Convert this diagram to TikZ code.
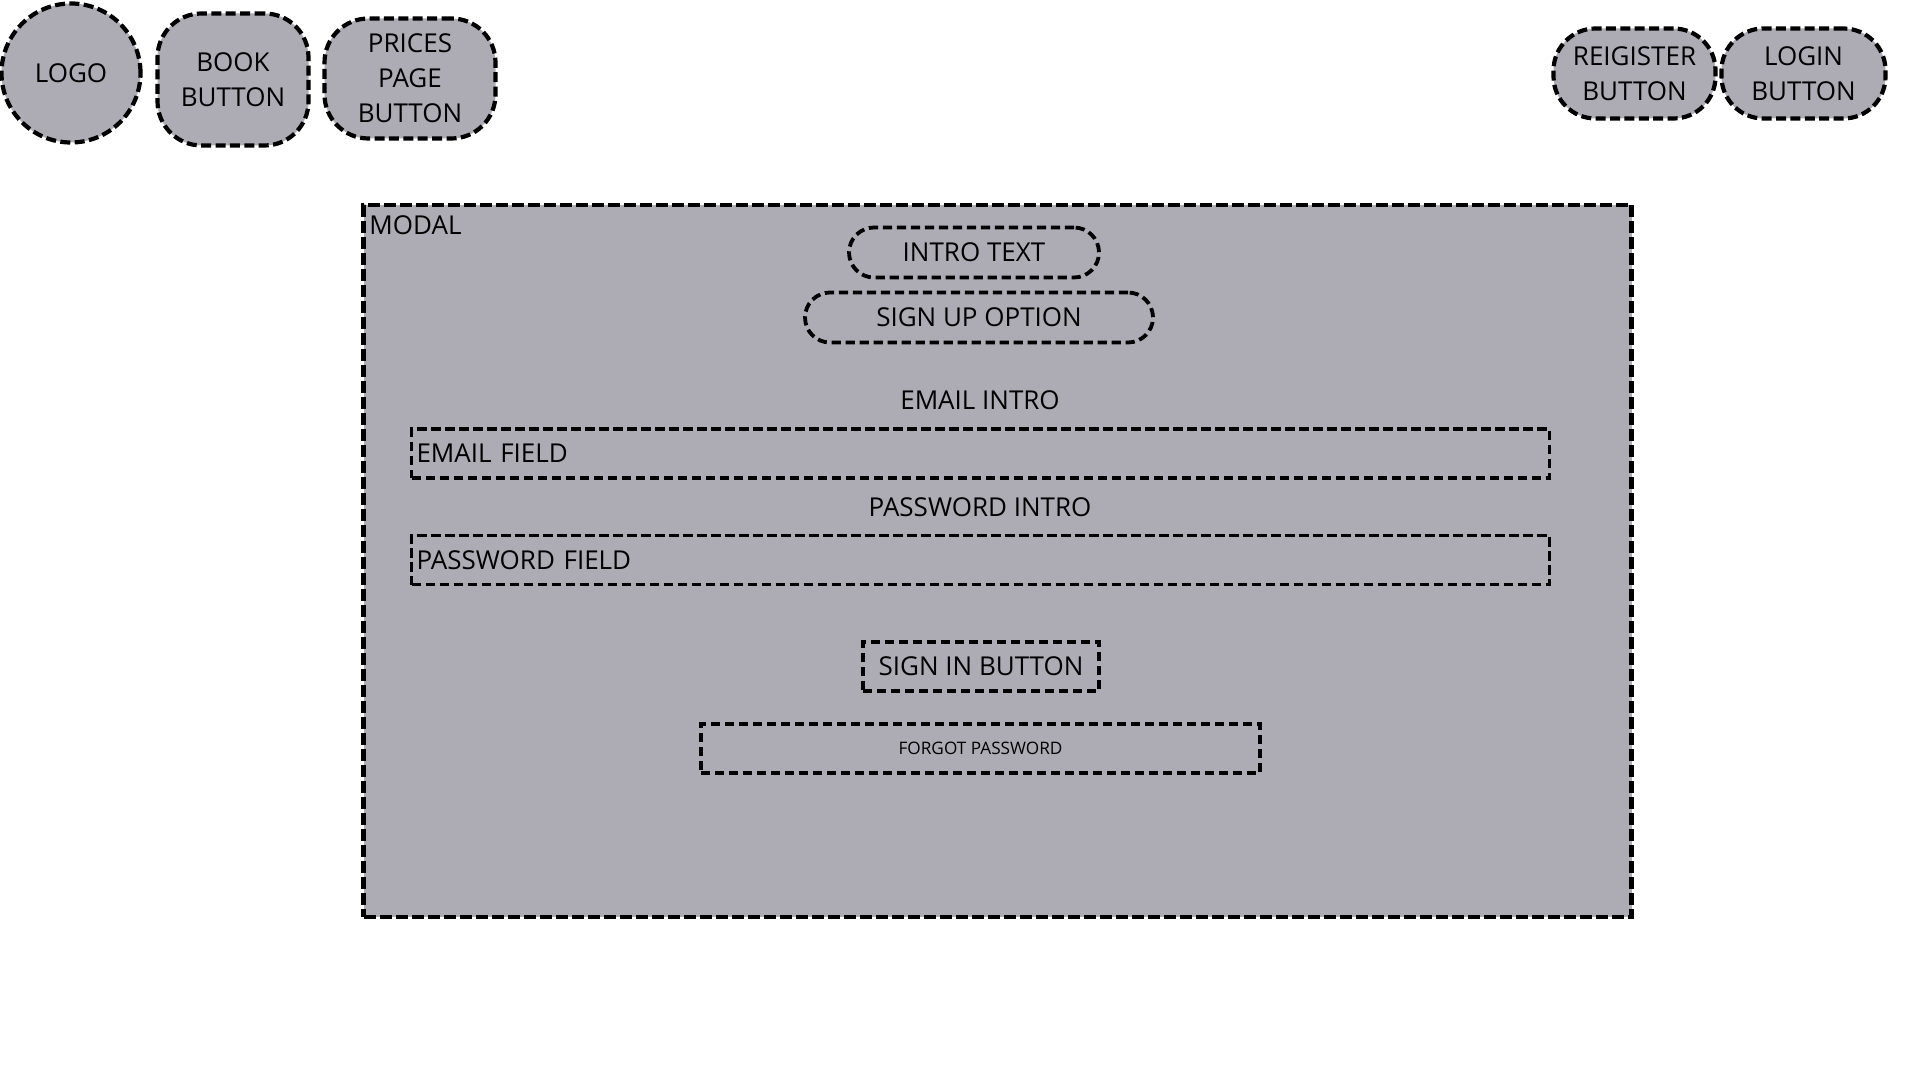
\documentclass[tikz,border=0pt]{standalone}
\usepackage{fontspec}
\setmainfont{Open Sans}
\definecolor{boxgray}{RGB}{173,172,181}
\newcommand\mainsz{\fontsize{13pt}{17.5pt}\selectfont}
\newcommand\smallsz{\fontsize{8.6pt}{10pt}\selectfont}
\tikzset{
  shapebox/.style={draw=black, fill=boxgray, line width=2.1pt, dash pattern=on 5pt off 2.2pt,
    inner sep=0pt, font=\mainsz, align=center, text=black},
  innerbox/.style={shapebox, line width=1.9pt, dash pattern=on 4.6pt off 2.4pt},
  capline/.style={text height=9.2pt, text depth=0pt},
  fieldbox/.style={innerbox, capline, align=left, inner xsep=2.5pt,
    text width=564pt, minimum height=24.5pt},
  plaintext/.style={font=\mainsz, text=black, inner sep=0pt, capline},
}
\begin{document}
\begin{tikzpicture}[x=0.5pt, y=-0.5pt]
\useasboundingbox[fill=white] (0,0) rectangle (1920,1080);

% top bar
\node[shapebox, circle, minimum size=69.5pt] (logo) at (71,73) {LOGO};
\node[shapebox, rectangle, rounded corners=22pt, minimum width=75.5pt, minimum height=66pt] (book) at (233,79.5) {BOOK\\BUTTON};
\node[shapebox, rectangle, rounded corners=22pt, minimum width=85.5pt, minimum height=60pt] (prices) at (410,78.5) {PRICES\\PAGE\\BUTTON};
\node[shapebox, rectangle, rounded corners=21pt, minimum width=81pt, minimum height=45pt] (register) at (1634.5,73.5) {REIGISTER\\BUTTON};
\node[shapebox, rectangle, rounded corners=21pt, minimum width=82pt, minimum height=45pt] (login) at (1803.5,73.5) {LOGIN\\BUTTON};

% modal
\node[shapebox, rectangle, line width=2.4pt, dash pattern=on 6pt off 2pt, minimum width=634pt, minimum height=356pt] (modal) at (997.5,561) {};
\node[plaintext, anchor=base west] (modallabel) at (369,235) {MODAL};

\node[innerbox, capline, rectangle, rounded corners=12.5pt, minimum width=125pt, minimum height=25pt] (intro) at (974,252.5) {INTRO TEXT};
\node[innerbox, capline, rectangle, rounded corners=12.5pt, minimum width=174pt, minimum height=25pt] (signup) at (979,317.5) {SIGN UP OPTION};

\node[plaintext] (emailintro) at (980,400.5) {EMAIL INTRO};
\node[fieldbox] (emailfield) at (980.5,453.5) {EMAIL FIELD};
\node[plaintext] (passintro) at (980,507) {PASSWORD INTRO};
\node[fieldbox] (passfield) at (980.5,560) {PASSWORD FIELD};

\node[innerbox, capline, rectangle, minimum width=118pt, minimum height=24.5pt] (signin) at (981,666.5) {SIGN IN BUTTON};
\node[innerbox, rectangle, font=\smallsz, text height=6.1pt, text depth=0pt, minimum width=279.5pt, minimum height=24.5pt] (forgot) at (980.5,748.5) {FORGOT PASSWORD};
\end{tikzpicture}
\end{document}
